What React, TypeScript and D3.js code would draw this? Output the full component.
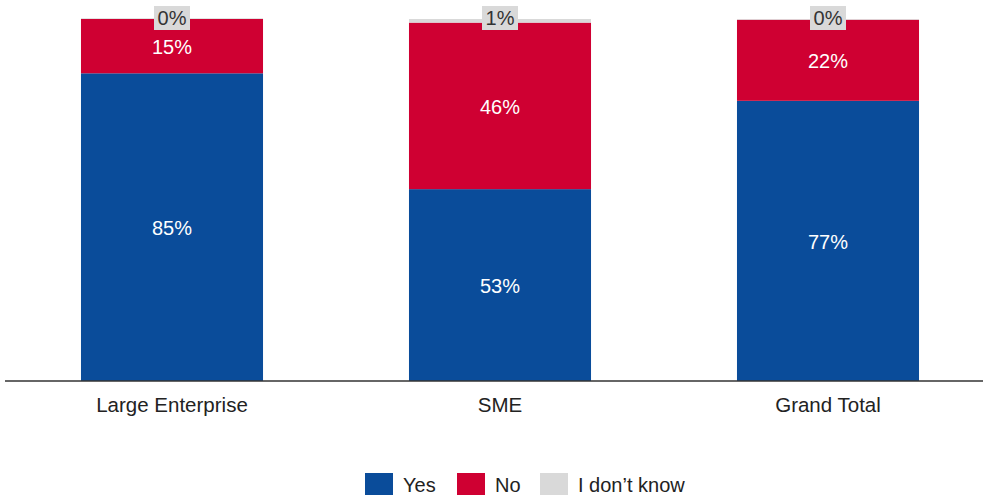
import React from "react";
import * as d3 from "d3";

const categories = ["Large Enterprise", "SME", "Grand Total"];
const yesValues = [85, 53, 77.4];
const noValues = [15, 46, 22.4];
const idkValues = [0.2, 1, 0.2];
const seriesNames = ["Yes", "No", "I don\u2019t know"];

const W = 983;
const H = 499;
const COLORS = ["#0a4c9a", "#cf0032", "#d9d9d9"];
const FONT = "'Liberation Sans', Arial, sans-serif";

export default function App() {
  const x = d3.scaleBand<string>().domain(categories).range([8, 992]).paddingInner(0.445).paddingOuter(0.2225);
  const y = d3.scaleLinear().domain([0, 100]).range([381, 19]);
  const rows = categories.map((c, i) => ({ cat: c, yes: yesValues[i], no: noValues[i], idk: idkValues[i] }));
  const stack = d3.stack<any>().keys(["yes", "no", "idk"])(rows);
  const bw = x.bandwidth();

  const legendItems = [
    { name: seriesNames[0], color: COLORS[0], x: 365 },
    { name: seriesNames[1], color: COLORS[1], x: 457 },
    { name: seriesNames[2], color: COLORS[2], x: 540 },
  ];

  return (
    <svg width={W} height={H} style={{ position: "absolute", left: 0, top: 0, background: "#fff" }} fontFamily={FONT}>
      {stack.map((layer, si) => (
        <g key={si}>
          {layer.map((d, i) => {
            const x0 = x(categories[i])!;
            const top = y(d[1]);
            const bot = y(d[0]);
            return <rect key={i} x={x0} y={top} width={bw} height={Math.max(0, bot - top)} fill={COLORS[si]} />;
          })}
        </g>
      ))}
      {stack.slice(0, 2).map((layer, si) => (
        <g key={"l" + si}>
          {layer.map((d, i) => {
            const cx = x(categories[i])! + bw / 2;
            const cy = (y(d[0]) + y(d[1])) / 2 + 1;
            return (
              <text key={i} x={cx} y={cy} textAnchor="middle" dominantBaseline="central" fill="#fff" fontSize={20}>
                {Math.round(d[1] - d[0])}%
              </text>
            );
          })}
        </g>
      ))}
      {stack[2].map((d, i) => {
        const cx = x(categories[i])! + bw / 2;
        const cy = y(100) - 1;
        return (
          <g key={"g" + i}>
            <rect x={cx - 18} y={cy - 12} width={36} height={24} fill="#d9d9d9" />
            <text x={cx} y={cy} textAnchor="middle" dominantBaseline="central" fill="#333" fontSize={20}>
              {Math.round(d[1] - d[0])}%
            </text>
          </g>
        );
      })}
      <line x1={5} x2={983} y1={y(0)} y2={y(0)} stroke="#333" strokeWidth={1.5} />
      {categories.map((c) => (
        <text key={c} x={x(c)! + bw / 2} y={404} textAnchor="middle" dominantBaseline="central" fill="#222" fontSize={20.5}>
          {c}
        </text>
      ))}
      {legendItems.map((it) => (
        <g key={it.name}>
          <rect x={it.x} y={473} width={28} height={22} fill={it.color} />
          <text x={it.x + 38} y={485} dominantBaseline="central" fill="#222" fontSize={20}>
            {it.name}
          </text>
        </g>
      ))}
    </svg>
  );
}
